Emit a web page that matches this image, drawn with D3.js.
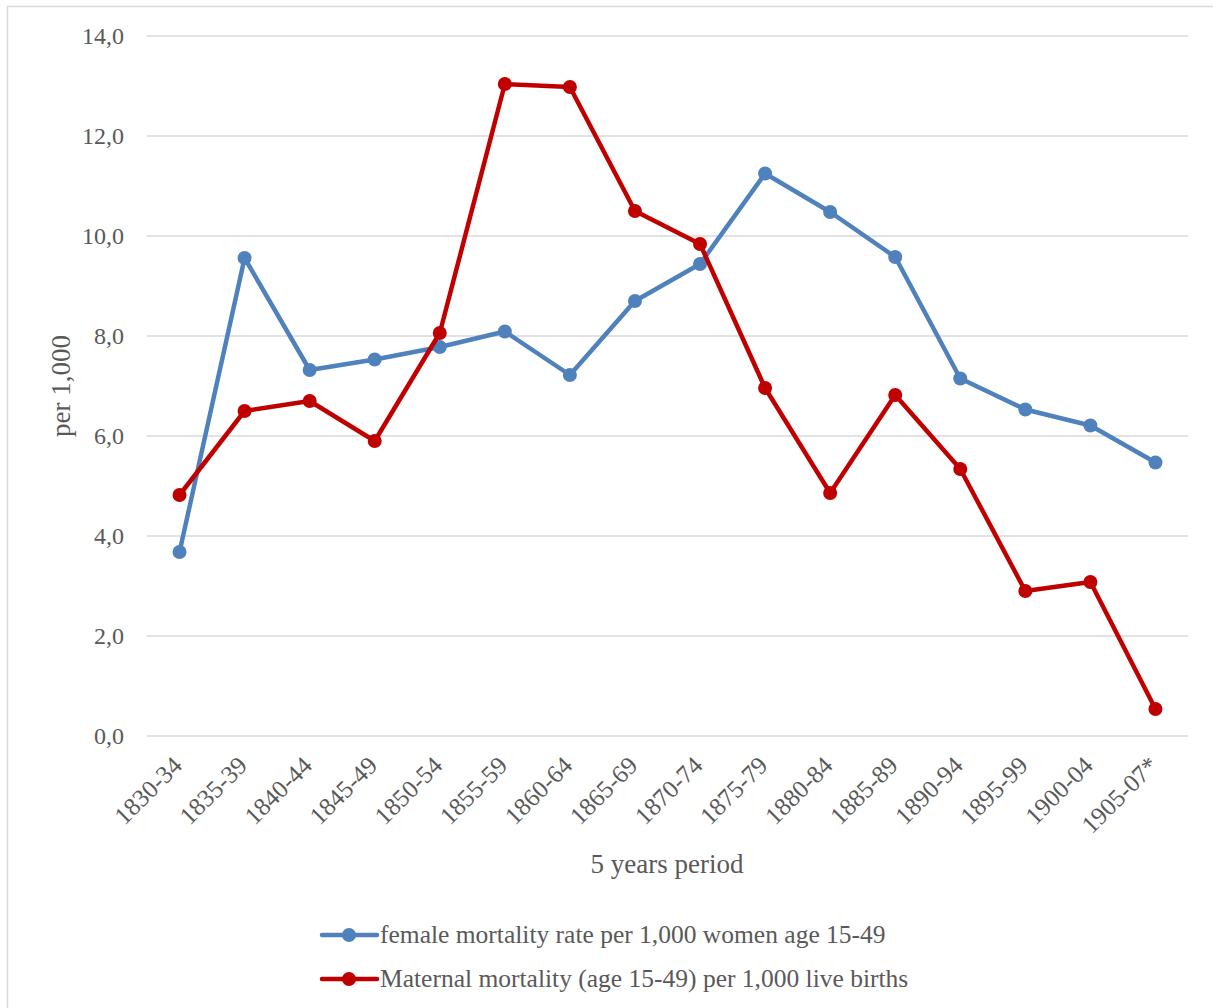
<!DOCTYPE html>
<html>
<head>
<meta charset="utf-8">
<script src="https://cdn.jsdelivr.net/npm/d3@7"></script>
<style>
  body { margin: 0; background: #fff; }
  text { font-family: "Liberation Serif", serif; fill: #595959; }
</style>
</head>
<body>
<div id="chart"></div>
<script>
// Data
var periods = ["1830-34", "1835-39", "1840-44", "1845-49", "1850-54", "1855-59", "1860-64", "1865-69",
               "1870-74", "1875-79", "1880-84", "1885-89", "1890-94", "1895-99", "1900-04", "1905-07*"];
var femaleRate = [3.68, 9.56, 7.32, 7.53, 7.78, 8.09, 7.22, 8.70, 9.44, 11.25, 10.48, 9.58, 7.15, 6.53, 6.21, 5.47];
var maternalRate = [4.82, 6.50, 6.70, 5.90, 8.06, 13.04, 12.98, 10.50, 9.84, 6.96, 4.86, 6.82, 5.34, 2.90, 3.08, 0.54];
var yTicks = [0, 2, 4, 6, 8, 10, 12, 14];
var seriesNames = ["female mortality rate per 1,000 women age 15-49",
                   "Maternal mortality (age 15-49) per 1,000 live births"];
var seriesColors = ["#4f81bd", "#c00000"];

var svgWidth = 1213;
var svgHeight = 1008;
var margin = { top: 36, right: 25, bottom: 272, left: 147 };
var width = svgWidth - margin.left - margin.right;
var height = svgHeight - margin.top - margin.bottom;

var svg = d3.select("#chart")
    .append("svg")
    .attr("width", svgWidth)
    .attr("height", svgHeight);

// chart border
svg.append("rect")
    .attr("x", 7.5).attr("y", 6.5)
    .attr("width", svgWidth).attr("height", svgHeight)
    .attr("fill", "none")
    .attr("stroke", "#d9d9d9")
    .attr("stroke-width", 1.5);

var chartGroup = svg.append("g").attr("transform", `translate(${margin.left}, ${margin.top})`);

var xScale = d3.scaleBand().domain(periods).range([0, width]);
var yScale = d3.scaleLinear().domain([0, 14]).range([height, 0]);

// gridlines
chartGroup.selectAll(".grid")
    .data(yTicks)
    .enter()
    .append("line")
    .attr("x1", 0).attr("x2", width)
    .attr("y1", d => yScale(d)).attr("y2", d => yScale(d))
    .attr("stroke", "#d9d9d9")
    .attr("stroke-width", 1.5);

// y axis labels
var leftAxis = d3.axisLeft(yScale).tickValues(yTicks)
    .tickFormat(d => d3.format(".1f")(d).replace(".", ","))
    .tickSize(0).tickPadding(23);
var yAxisG = chartGroup.append("g").call(leftAxis);
yAxisG.select(".domain").remove();
yAxisG.selectAll("text").attr("font-size", 24).attr("fill", "#595959")
    .style("font-family", "Liberation Serif");

// x axis labels
var bottomAxis = d3.axisBottom(xScale).tickSize(0).tickPadding(0);
var xAxisG = chartGroup.append("g").attr("transform", `translate(0, ${height})`).call(bottomAxis);
xAxisG.select(".domain").remove();
xAxisG.selectAll("text")
    .attr("font-size", 25)
    .attr("fill", "#595959")
    .style("font-family", "Liberation Serif")
    .attr("text-anchor", "end")
    .attr("dy", 0)
    .attr("y", 0)
    .attr("transform", "translate(4, 31) rotate(-45)");

// axis titles
chartGroup.append("text")
    .attr("x", 667 - margin.left)
    .attr("y", 873 - margin.top)
    .attr("text-anchor", "middle")
    .attr("font-size", 27)
    .text("5 years period");

chartGroup.append("text")
    .attr("transform", "rotate(-90)")
    .attr("x", -(386 - margin.top))
    .attr("y", 70 - margin.left)
    .attr("text-anchor", "middle")
    .attr("font-size", 27)
    .text("per 1,000");

// lines and markers
var line = d3.line()
    .x((d, i) => xScale(periods[i]) + xScale.bandwidth() / 2)
    .y(d => yScale(d));

[femaleRate, maternalRate].forEach(function(values, s) {
    chartGroup.append("path")
        .datum(values)
        .attr("d", line)
        .attr("fill", "none")
        .attr("stroke", seriesColors[s])
        .attr("stroke-width", 4.5)
        .attr("stroke-linejoin", "round")
        .attr("stroke-linecap", "round");

    chartGroup.selectAll(".pt" + s)
        .data(values)
        .enter()
        .append("circle")
        .attr("cx", (d, i) => xScale(periods[i]) + xScale.bandwidth() / 2)
        .attr("cy", d => yScale(d))
        .attr("r", 7)
        .attr("fill", seriesColors[s]);
});

// legend
var legend = svg.append("g");
seriesNames.forEach(function(name, s) {
    var ly = 935 + s * 44;
    legend.append("line")
        .attr("x1", 322).attr("x2", 377)
        .attr("y1", ly).attr("y2", ly)
        .attr("stroke", seriesColors[s])
        .attr("stroke-width", 4.5)
        .attr("stroke-linecap", "round");
    legend.append("circle")
        .attr("cx", 349).attr("cy", ly).attr("r", 7)
        .attr("fill", seriesColors[s]);
    legend.append("text")
        .attr("x", 380).attr("y", ly + 8)
        .attr("font-size", 25.5)
        .text(name);
});
</script>
</body>
</html>
